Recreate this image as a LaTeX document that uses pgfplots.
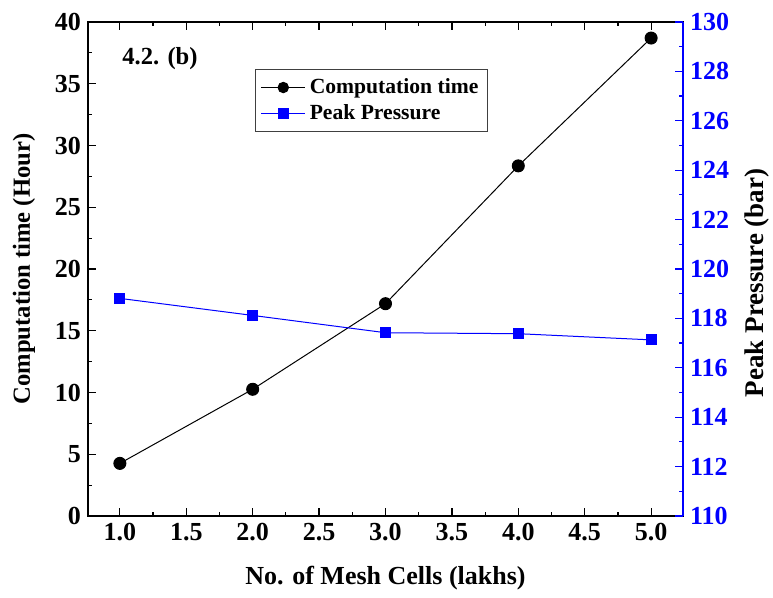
\documentclass[border=0pt]{standalone}
\usepackage{fontspec}
\setmainfont{Liberation Serif}
\usepackage{pgfplots}
\pgfplotsset{compat=1.18}
\begin{document}
\begin{tikzpicture}
\pgfplotsset{
  every axis/.append style={
    scale only axis, width=297.5pt, height=247pt,
    xmin=0.76, xmax=5.24,
    /pgf/number format/assume math mode=true,
    tick label style={font=\fontsize{13}{15}\selectfont\bfseries},
    label style={font=\fontsize{13.5}{15}\selectfont\bfseries},
    tick align=inside,
    major tick length=4pt, minor tick length=2pt,
    axis line style={line width=0.8pt},
    every tick/.style={line width=0.6pt},
  }
}
\begin{axis}[name=ax,
  ymin=0, ymax=40, ytick={0,5,...,40}, minor y tick num=1, ytick pos=left,
  xtick={1,1.5,...,5}, minor x tick num=1,
  xticklabel style={/pgf/number format/.cd, fixed, fixed zerofill, precision=1},
  xlabel={No. of Mesh Cells (lakhs)},
  xlabel style={yshift=-6pt, font=\fontsize{13}{15}\selectfont\bfseries},
  ylabel={Computation time (Hour)},
  ylabel style={yshift=3pt, font=\fontsize{12.3}{14}\selectfont\bfseries},
]
\addplot[black, mark=*, mark size=3pt, line width=0.5pt]
  coordinates {(1,4.26)(2,10.26)(3,17.19)(4,28.35)(5,38.7)};
\node[font=\fontsize{12.3}{14}\selectfont\bfseries] at (rel axis cs:0.121,0.925) {4.2. (b)};
\end{axis}
\begin{axis}[
  axis y line*=right, axis x line=none,
  ymin=110, ymax=130, ytick={110,112,...,130}, minor y tick num=1,
  ylabel={Peak Pressure (bar)},
  ylabel style={yshift=-1pt, xshift=-7pt},
  y axis line style={blue, line width=0.8pt},
  yticklabel style={blue},
  ytick style={blue},
  every tick/.style={blue, line width=0.6pt},
  legend style={at={(rel axis cs:0.281,0.905)}, anchor=north west,
    draw=black!75, line width=0.6pt, font=\fontsize{10.8}{13}\selectfont\bfseries,
    inner sep=2.5pt, row sep=0pt},
  legend image code/.code={
    \draw[#1,mark=none] (0pt,0pt) -- (22pt,0pt);
    \draw[#1,only marks] plot coordinates {(11pt,0pt)};
  },
  legend cell align=left,
]
\addlegendimage{black, mark=*, mark size=2.6pt, line width=0.5pt}
\addlegendentry{Computation time}
\addplot[blue, mark=square*, mark size=2.5pt, line width=0.5pt]
  coordinates {(1,118.81)(2,118.12)(3,117.42)(4,117.38)(5,117.13)};
\addlegendentry{Peak Pressure}
\end{axis}
\pgfresetboundingbox
\path ([shift={(-44pt,-41pt)}]ax.south west) rectangle ([shift={(45pt,11pt)}]ax.north east);
\end{tikzpicture}
\end{document}
